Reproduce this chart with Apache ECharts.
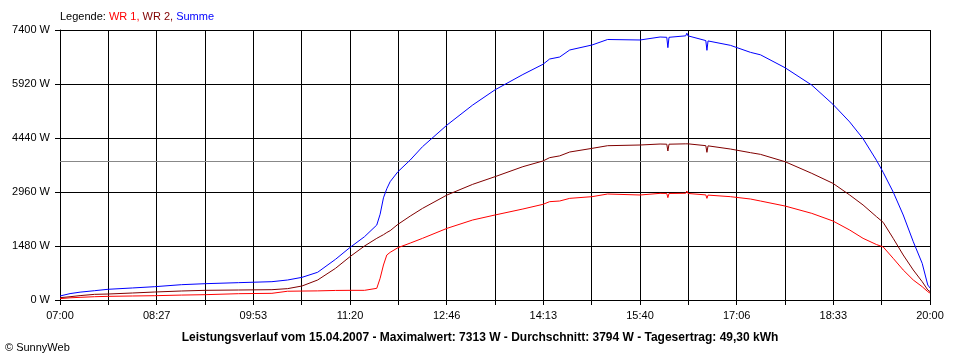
<!DOCTYPE html>
<html><head><meta charset="utf-8">
<script src="https://cdn.jsdelivr.net/npm/echarts@6/dist/echarts.min.js"></script>
<style>html,body{margin:0;padding:0;background:#fff}#c{width:960px;height:360px}</style>
</head><body><div id="c"></div>
<script>
const times = ['07:00','07:09','07:18','07:31','07:43','08:05','08:25','08:49','09:10','09:40','10:10','10:24','10:37','10:51','11:07','11:20','11:33','11:44','11:47','11:50','11:53','11:56','12:03','12:14','12:25','12:47','13:10','13:30','13:55','14:13','14:19','14:28','14:37','14:57','15:11','15:40','15:58','16:04','16:05','16:06','16:21','16:22','16:23','16:39','16:40','16:41','17:01','17:19','17:28','17:50','18:14','18:33','18:48','19:00','19:12','19:18','19:27','19:36','19:45','19:53','19:58','20:00'];
const wr1 = [37,60,73,90,100,110,118,135,146,173,183,240,245,250,262,265,265,320,594,959,1233,1306,1434,1560,1690,1964,2193,2330,2494,2622,2695,2713,2786,2832,2905,2878,2923,2920,2805,2920,2925,2987,2920,2880,2786,2875,2832,2768,2713,2576,2375,2165,1918,1690,1520,1455,1142,822,548,365,228,190];
const wr2 = [63,90,120,155,164,192,219,247,265,274,283,311,384,548,868,1188,1480,1690,1740,1790,1850,1900,2074,2300,2511,2878,3170,3380,3654,3810,3901,3950,4056,4156,4229,4248,4275,4270,4084,4270,4280,4330,4280,4230,4047,4225,4138,4038,3992,3791,3471,3197,2878,2604,2284,2129,1690,1233,822,502,274,230];
const summe = [110,175,215,255,293,330,365,420,447,475,502,548,621,760,1115,1440,1735,2055,2350,2800,3050,3243,3517,3837,4202,4796,5344,5760,6180,6460,6605,6660,6852,6989,7140,7126,7208,7200,6916,7200,7240,7313,7240,7110,6843,7100,6980,6788,6720,6367,5890,5363,4880,4420,3830,3500,2960,2330,1598,1005,411,330];
const xTickLabels = ['07:00','08:27','09:53','11:20','12:46','14:13','15:40','17:06','18:33','20:00'];
const yMax = 7400, yStep = 1480;
const average = 3794;
const seriesNames = ['WR 1','WR 2','Summe'];
const titleText = 'Leistungsverlauf vom 15.04.2007 - Maximalwert: 7313 W - Durchschnitt: 3794 W - Tagesertrag: 49,30 kWh';

const startSec = 7*3600, endSec = 20*3600, span = endSec - startSec;
const gridStep = span / 18, labelStep = span / 9;
function toSec(t){ const p = t.split(':'); return (+p[0])*3600 + (+p[1])*60 - startSec; }
function pairs(vals){ return times.map((t,i)=>[toSec(t), vals[i]]); }

const font = '"Liberation Sans", Arial, sans-serif';
const chart = echarts.init(document.getElementById('c'), null, {renderer:'canvas'});
chart.setOption({
  animation:false,
  backgroundColor:'#fff',
  grid:{left:60,right:30,top:30,bottom:60,containLabel:false},
  xAxis:{type:'value',min:0,max:span,interval:gridStep,
    axisLine:{lineStyle:{color:'#000',width:1}},
    axisTick:{show:true,length:5,lineStyle:{color:'#000'}},
    splitLine:{show:true,lineStyle:{color:'#000',width:1}},
    axisLabel:{color:'#000',fontFamily:font,fontSize:11,margin:10,showMinLabel:true,showMaxLabel:true,
      formatter:v=>{const k=Math.round(v/labelStep); return Math.abs(v-k*labelStep)<1 ? xTickLabels[k] : '';}}},
  yAxis:{type:'value',min:0,max:yMax,interval:yStep,
    axisLine:{show:true,lineStyle:{color:'#000',width:1}},
    axisTick:{show:true,length:5,lineStyle:{color:'#000'}},
    splitLine:{show:true,lineStyle:{color:'#000',width:1}},
    axisLabel:{color:'#000',fontFamily:font,fontSize:11,margin:10,formatter:v=>String(Math.round(v))+' W'}},
  series:[
    {name:seriesNames[0],type:'line',data:pairs(wr1),showSymbol:false,symbol:'none',lineStyle:{color:'#ff0000',width:1},itemStyle:{color:'#ff0000'},z:4,
     markLine:{silent:true,symbol:['none','none'],label:{show:false},lineStyle:{color:'#888',width:1,type:'solid'},data:[{yAxis:average}],z:3}},
    {name:seriesNames[1],type:'line',data:pairs(wr2),showSymbol:false,symbol:'none',lineStyle:{color:'#800000',width:1},itemStyle:{color:'#800000'},z:5},
    {name:seriesNames[2],type:'line',data:pairs(summe),showSymbol:false,symbol:'none',lineStyle:{color:'#0000ff',width:1},itemStyle:{color:'#0000ff'},z:6}
  ],
  graphic:[
    {type:'text',left:60,top:11,style:{text:'{a|Legende: }{b|'+seriesNames[0]+', }{c|'+seriesNames[1]+', }{d|'+seriesNames[2]+'}',
      font:'11px '+font,
      rich:{a:{fill:'#000',fontSize:11,fontFamily:font},b:{fill:'#ff0000',fontSize:11,fontFamily:font},c:{fill:'#800000',fontSize:11,fontFamily:font},d:{fill:'#0000ff',fontSize:11,fontFamily:font}}}},
    {type:'text',x:480,y:338,style:{text:titleText,fill:'#000',font:'bold 12px '+font,textAlign:'center',textVerticalAlign:'middle'}},
    {type:'text',x:5,y:348,style:{text:'© SunnyWeb',fill:'#000',font:'11px '+font,textAlign:'left',textVerticalAlign:'middle'}}
  ]
});
</script>
</body></html>
